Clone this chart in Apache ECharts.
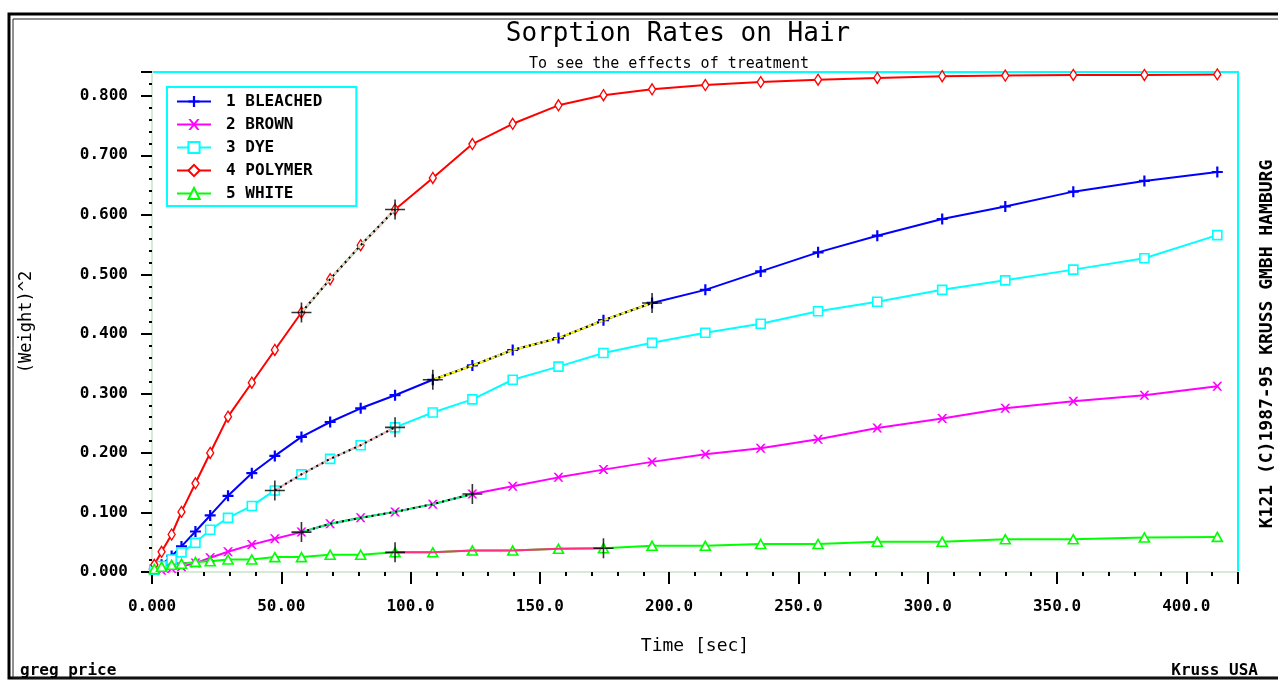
<!DOCTYPE html>
<html>
<head>
<meta charset="utf-8">
<script src="https://cdn.jsdelivr.net/npm/echarts@6/dist/echarts.min.js"></script>
<style>
html,body{margin:0;padding:0;background:#fff;}
#chart{width:1278px;height:680px;}
</style>
</head>
<body>
<div id="chart"></div>
<script>
// ---- data ----
const times = [0.9, 3.7, 7.6, 11.4, 16.8, 22.5, 29.4, 38.6, 47.5, 57.8, 68.9, 80.7, 94.0, 108.6, 123.9, 139.5, 157.2, 174.6, 193.4, 214.0, 235.4, 257.6, 280.5, 305.6, 330.0, 356.3, 383.8, 412.0];
const bleached = [0.005, 0.012, 0.027, 0.043, 0.068, 0.095, 0.128, 0.166, 0.195, 0.227, 0.252, 0.275, 0.297, 0.323, 0.347, 0.373, 0.393, 0.423, 0.452, 0.474, 0.505, 0.537, 0.565, 0.593, 0.614, 0.639, 0.657, 0.672];
const brown = [0.002, 0.003, 0.006, 0.009, 0.015, 0.024, 0.034, 0.046, 0.056, 0.067, 0.081, 0.091, 0.101, 0.114, 0.131, 0.144, 0.159, 0.172, 0.185, 0.198, 0.208, 0.223, 0.242, 0.258, 0.275, 0.287, 0.297, 0.312];
const dye = [0.004, 0.010, 0.021, 0.033, 0.049, 0.071, 0.091, 0.111, 0.137, 0.164, 0.190, 0.213, 0.243, 0.268, 0.290, 0.323, 0.345, 0.368, 0.385, 0.402, 0.417, 0.438, 0.454, 0.474, 0.490, 0.508, 0.527, 0.566];
const polymer = [0.012, 0.034, 0.063, 0.101, 0.149, 0.200, 0.261, 0.318, 0.373, 0.436, 0.492, 0.549, 0.609, 0.662, 0.719, 0.753, 0.784, 0.801, 0.811, 0.818, 0.823, 0.827, 0.830, 0.833, 0.834, 0.835, 0.835, 0.836];
const white = [0.005, 0.009, 0.012, 0.014, 0.017, 0.018, 0.021, 0.021, 0.025, 0.025, 0.029, 0.029, 0.033, 0.033, 0.036, 0.036, 0.039, 0.040, 0.044, 0.044, 0.047, 0.047, 0.051, 0.051, 0.055, 0.055, 0.058, 0.059];
const seriesNames = ['1 BLEACHED', '2 BROWN', '3 DYE', '4 POLYMER', '5 WHITE'];
// fit ranges (start time, end time) marked with black crosshairs
const fitStart = [108.6, 57.8, 47.5, 57.8, 94.0];
const fitEnd = [193.4, 123.9, 94.0, 94.0, 174.6];
const yTicks = ['0.000', '0.100', '0.200', '0.300', '0.400', '0.500', '0.600', '0.700', '0.800'];
const xTicks = ['0.000', '50.00', '100.0', '150.0', '200.0', '250.0', '300.0', '350.0', '400.0'];

const allValues = [bleached, brown, dye, polymer, white];
const colors = ['#0000ff', '#ff00ff', '#00ffff', '#ff0000', '#00ff00'];
const fitUnder = ['#ffff00', '#00ff66', '#ffb0b0', '#c8e6c8', '#ff3080'];
const FONT = "'DejaVu Sans Mono', monospace";

const plusPath = 'path://M4,0H6V4H10V6H6V10H4V6H0V4H4Z';
const xPath = 'path://M0,0L2,0L5,3.6L8,0L10,0L6.2,5L10,10L8,10L5,6.4L2,10L0,10L3.8,5Z';
const crossPath = 'path://M9.2,0H10.8V20H9.2Z M0,9.2H20V10.8H0Z';

const symbolDefs = [
  {symbol: plusPath, symbolSize: 11, itemStyle: {color: colors[0]}},
  {symbol: xPath, symbolSize: [10, 9], itemStyle: {color: colors[1]}},
  {symbol: 'rect', symbolSize: 9, itemStyle: {color: '#fff', borderColor: colors[2], borderWidth: 1.6}},
  {symbol: 'diamond', symbolSize: [7, 11], itemStyle: {color: '#fff', borderColor: colors[3], borderWidth: 1.4}},
  {symbol: 'triangle', symbolSize: [10, 9], itemStyle: {color: '#fff', borderColor: colors[4], borderWidth: 1.6}}
];

const series = [];
allValues.forEach((vals, i) => {
  series.push(Object.assign({
    name: seriesNames[i],
    type: 'line',
    data: times.map((t, k) => [t, vals[k]]),
    showAllSymbol: true,
    lineStyle: {color: colors[i], width: 2},
    z: 3
  }, symbolDefs[i]));
});
// fit segments overlay
allValues.forEach((vals, i) => {
  const seg = times.map((t, k) => [t, vals[k]]).filter(p => p[0] >= fitStart[i] - 0.01 && p[0] <= fitEnd[i] + 0.01);
  series.push({
    name: 'fit' + i, type: 'line', data: seg, symbol: 'none', silent: true,
    lineStyle: {color: fitUnder[i], width: 2}, z: 4
  });
  if (i !== 4) {
    series.push({
      name: 'fitdots' + i, type: 'line', data: seg, symbol: 'none', silent: true,
      lineStyle: {color: '#000', width: 2, type: [2, 4]}, z: 5
    });
  }
});
// crosshairs
const crossData = [];
allValues.forEach((vals, i) => {
  times.forEach((t, k) => {
    if (Math.abs(t - fitStart[i]) < 0.01 || Math.abs(t - fitEnd[i]) < 0.01) crossData.push([t, vals[k]]);
  });
});
series.push({
  name: 'cross', type: 'scatter', data: crossData, symbol: crossPath, symbolSize: 20,
  itemStyle: {color: '#000'}, silent: true, z: 6
});

const chart = echarts.init(document.getElementById('chart'), null, {renderer: 'canvas'});
chart.setOption({
  backgroundColor: '#fff',
  animation: false,
  grid: {left: 152, right: 40, top: 72, bottom: 108, show: true, borderColor: '#00ffff', borderWidth: 2, backgroundColor: 'transparent'},
  legend: {
    data: seriesNames,
    orient: 'vertical',
    left: 167, top: 87,
    padding: [6, 34, 4, 9],
    borderColor: '#00ffff', borderWidth: 2,
    backgroundColor: '#fff',
    itemWidth: 34, itemHeight: 14, itemGap: 6,
    textStyle: {fontFamily: FONT, fontSize: 16, fontWeight: 'bold', color: '#000', padding: [0, 0, 0, 10], lineHeight: 17}
  },
  xAxis: {
    type: 'value', min: 0, max: 420, interval: 50,
    name: 'Time [sec]', nameLocation: 'middle', nameGap: 65,
    nameTextStyle: {fontFamily: FONT, fontSize: 18, color: '#000'},
    axisLine: {lineStyle: {color: '#d6ead6', width: 2}},
    axisTick: {show: true, inside: false, length: 12, lineStyle: {color: '#000', width: 2}},
    minorTick: {show: true, splitNumber: 5, length: 4, lineStyle: {color: '#000', width: 2}},
    splitLine: {show: false},
    axisLabel: {
      showMaxLabel: false, margin: 27,
      fontFamily: FONT, fontSize: 16, fontWeight: 'bold', color: '#000',
      formatter: v => { const k = Math.round(v / 50); return (Math.abs(v - k * 50) < 1e-6 && k < xTicks.length) ? xTicks[k] : ''; }
    }
  },
  yAxis: {
    type: 'value', min: 0, max: 0.84, interval: 0.1,
    name: '(Weight)^2', nameLocation: 'middle', nameGap: 117,
    nameTextStyle: {fontFamily: FONT, fontSize: 17, color: '#000'},
    axisLine: {lineStyle: {color: '#d6ead6', width: 2}},
    axisTick: {show: true, length: 11, lineStyle: {color: '#000', width: 2}},
    minorTick: {show: true, splitNumber: 5, length: 3, lineStyle: {color: '#000', width: 2}},
    splitLine: {show: false},
    axisLabel: {
      showMaxLabel: false, margin: 24,
      fontFamily: FONT, fontSize: 16, fontWeight: 'bold', color: '#000',
      formatter: v => { const k = Math.round(v * 10); return (Math.abs(v - k / 10) < 1e-6 && k < yTicks.length) ? yTicks[k] : ''; }
    }
  },
  graphic: [
    {type: 'rect', silent: true, z: -1, shape: {x: 9, y: 14, width: 1300, height: 664}, style: {fill: 'none', stroke: '#000', lineWidth: 3}},
    {type: 'rect', silent: true, z: -1, shape: {x: 13, y: 19, width: 1300, height: 659}, style: {fill: 'none', stroke: '#222', lineWidth: 1}},
    {type: 'text', x: 678, y: 34, style: {text: 'Sorption Rates on Hair', font: "26px " + FONT, fill: '#000', align: 'center', verticalAlign: 'middle'}},
    {type: 'text', x: 669, y: 64, style: {text: 'To see the effects of treatment', font: "15px " + FONT, fill: '#000', align: 'center', verticalAlign: 'middle'}},
    {type: 'text', x: 20, y: 671, style: {text: 'greg price', font: "bold 16px " + FONT, fill: '#000', align: 'left', verticalAlign: 'middle'}},
    {type: 'text', x: 1258, y: 671, style: {text: 'Kruss USA', font: "bold 16px " + FONT, fill: '#000', align: 'right', verticalAlign: 'middle'}},
    {type: 'text', x: 1267, y: 344, rotation: Math.PI / 2, style: {text: 'K121 (C)1987-95 KRUSS GMBH HAMBURG', font: "bold 18px " + FONT, fill: '#000', align: 'center', verticalAlign: 'middle'}}
  ],
  series: series
});
</script>
</body>
</html>
